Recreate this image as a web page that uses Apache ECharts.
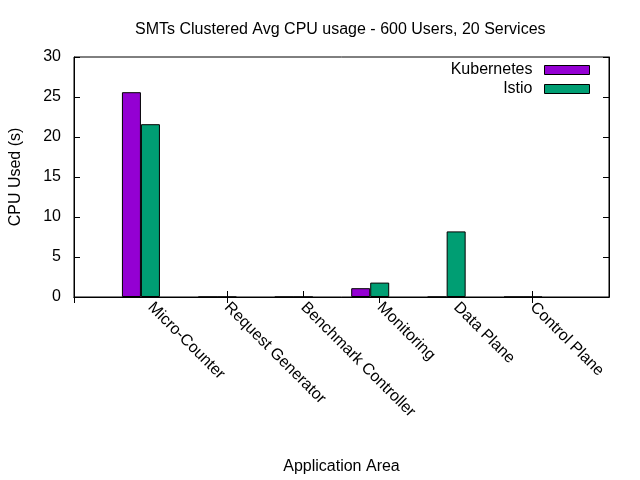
<!DOCTYPE html>
<html>
<head>
<meta charset="utf-8">
<script src="https://cdn.jsdelivr.net/npm/echarts@6/dist/echarts.min.js"></script>
<style>
  html, body { margin: 0; padding: 0; background: #fff; }
  #chart { width: 640px; height: 480px; }
</style>
</head>
<body>
<div id="chart"></div>
<script>
// categories padded with empty slots at both ends (x range -1..6)
var categories = ["", "Micro-Counter", "Request Generator", "Benchmark Controller", "Monitoring", "Data Plane", "Control Plane", ""];
var kubernetes = ["-", 25.6, 0, 0, 1.1, 0, 0, "-"];
var istio = ["-", 21.6, 0, 0, 1.8, 8.2, 0, "-"];
var yTicks = [0, 5, 10, 15, 20, 25, 30];

var font = "Liberation Sans";
var fs = 16;
var chart = echarts.init(document.getElementById("chart"));

var tickStyle = { show: true, inside: true, length: 6, lineStyle: { color: "#000" } };

function legendAt(name, top) {
  return {
    data: [name], right: 50, top: top, padding: 0,
    icon: "rect",
    itemWidth: 45, itemHeight: 9, align: "right", itemGap: 0,
    textStyle: { fontFamily: font, fontSize: fs, color: "#000", padding: [0, 7, 0, 0] },
    itemStyle: { borderColor: "#000", borderWidth: 1 }
  };
}

chart.setOption({
  animation: false,
  textStyle: { fontFamily: font, color: "#000" },
  title: {
    text: "SMTs Clustered Avg CPU usage - 600 Users, 20 Services",
    left: 130,
    top: 17,
    textStyle: { fontFamily: font, fontSize: fs, fontWeight: "normal", color: "#000" }
  },
  legend: [legendAt("Kubernetes", 62), legendAt("Istio", 81)],
  grid: { left: 74, right: 31, top: 57, bottom: 183, show: true, borderColor: "#000", borderWidth: 1 },
  xAxis: [
    {
      type: "category",
      data: categories,
      boundaryGap: false,
      name: "Application Area",
      nameLocation: "middle",
      nameGap: 162,
      nameTextStyle: { fontFamily: font, fontSize: fs, color: "#000" },
      axisLine: { lineStyle: { color: "#000" } },
      axisTick: tickStyle,
      axisLabel: { rotate: -45, margin: 8, fontFamily: font, fontSize: fs, color: "#000", interval: 0 },
      splitLine: { show: false }
    },
    {
      type: "category",
      data: categories,
      boundaryGap: false,
      position: "top",
      axisLine: { lineStyle: { color: "#000" } },
      axisTick: tickStyle,
      axisLabel: { show: false },
      splitLine: { show: false }
    }
  ],
  yAxis: [
    {
      type: "value",
      min: yTicks[0],
      max: yTicks[yTicks.length - 1],
      interval: 5,
      name: "CPU Used (s)",
      nameLocation: "middle",
      nameGap: 50,
      nameTextStyle: { fontFamily: font, fontSize: fs, color: "#000" },
      axisLine: { show: true, lineStyle: { color: "#000" } },
      axisTick: tickStyle,
      axisLabel: { margin: 13, fontFamily: font, fontSize: fs, color: "#000" },
      splitLine: { show: false }
    },
    {
      type: "value",
      min: yTicks[0],
      max: yTicks[yTicks.length - 1],
      interval: 5,
      position: "right",
      axisLine: { show: true, lineStyle: { color: "#000" } },
      axisTick: tickStyle,
      axisLabel: { show: false },
      splitLine: { show: false }
    }
  ],
  series: [
    {
      name: "Kubernetes", type: "bar", data: kubernetes,
      barWidth: 19, barGap: "0%",
      itemStyle: { color: "#9400d3", borderColor: "#000", borderWidth: 1 }
    },
    {
      name: "Istio", type: "bar", data: istio,
      barWidth: 19, barGap: "0%",
      itemStyle: { color: "#009e73", borderColor: "#000", borderWidth: 1 }
    },
    {
      // empty slot, as the gap of a clustered histogram
      name: "gap", type: "bar", data: categories.map(function () { return "-"; }),
      barWidth: 19, barGap: "0%",
      itemStyle: { color: "transparent" }
    }
  ]
});
</script>
</body>
</html>
